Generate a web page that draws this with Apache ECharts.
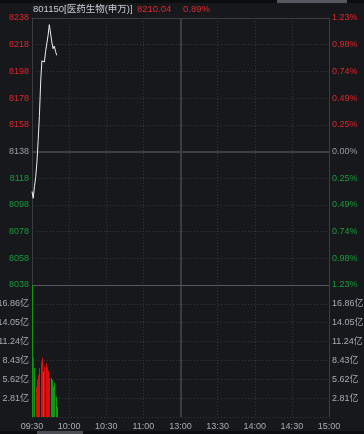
<!DOCTYPE html>
<html><head><meta charset="utf-8">
<script src="https://cdn.jsdelivr.net/npm/echarts@6/dist/echarts.min.js"></script>
<style>html,body{margin:0;padding:0;background:#16181c;}#c{width:364px;height:434px;}</style>
</head><body><div id="c"></div>
<script>
// ---- data ----
const titleCode = '801150[医药生物(申万)]';
const lastPrice = '8210.04';
const lastPct = '0.89%';
const preClose = 8138;
const priceMin = 8038, priceMax = 8238, priceStep = 20;
const timeLabels = ['09:30','10:00','10:30','11:00','13:00','13:30','14:00','14:30','15:00'];
const pctLabels = ['1.23%','0.98%','0.74%','0.49%','0.25%','0.00%','0.25%','0.49%','0.74%','0.98%','1.23%'];
const volStep = 2.81, volMax = 19.67;
const volLabels = ['2.81亿','5.62亿','8.43亿','11.24亿','14.05亿','16.86亿'];
const prices = [8108,8103,8112,8119,8130,8147,8165,8190,8206,8207,8205,8213,8214,8225,8233,8232,8220,8215,8217,8213,8210.04];
const volumes = [19.67,8.9,7.3,4.5,5.6,6.3,7.3,8.2,8.8,6.8,7.5,8.0,7.4,6.9,5.8,5.8,5.5,4.6,5.1,3.0,1.5];
const volDir  = [-1,1,-1,1,1,1,1,1,1,-1,1,1,1,1,1,-1,-1,-1,-1,-1,-1];
const minutesPerDay = 240, labelEvery = 30;

// ---- styles ----
const RED = '#e0262b', GREEN = '#1a9c3a', GRAY = '#9a9ea6', BG = '#16181c', LINE = '#3a3c41';
const BAR_UP = '#d81010', BAR_DOWN = '#119a11';
const FONT = "'Liberation Sans','Noto Sans CJK SC',sans-serif";
const dotted = {color:'#34373c', type:[1,2], width:1};
const colorOf = v => v > preClose + 0.001 ? RED : (v < preClose - 0.001 ? GREEN : GRAY);
const minuteCats = Array.from({length:minutesPerDay+1}, (_, i) => String(i));
const onLabel = i => i % labelEvery === 0;

const chart = echarts.init(document.getElementById('c'));
chart.setOption({
  backgroundColor: BG,
  animation: false,
  grid: [
    {left:32, right:35, top:18, height:267, containLabel:false, outerBoundsMode:'none'},
    {left:32, right:35, top:285, height:132, containLabel:false, outerBoundsMode:'none'}
  ],
  xAxis: [
    {type:'category', gridIndex:0, data:minuteCats, boundaryGap:false, position:'top',
     axisLine:{show:true, lineStyle:{color:LINE}}, axisTick:{show:false}, axisLabel:{show:false},
     splitLine:{show:true, interval:(i)=>onLabel(i), lineStyle:dotted}},
    {type:'category', gridIndex:1, data:minuteCats, boundaryGap:false,
     axisLine:{show:false}, axisTick:{show:false},
     axisLabel:{color:'#a8acb2', fontSize:9, fontFamily:FONT, margin:5, interval:(i)=>onLabel(i),
       formatter:(v,i)=>timeLabels[Math.round(Number(v)/labelEvery)]},
     splitLine:{show:true, interval:(i)=>onLabel(i), lineStyle:dotted}}
  ],
  yAxis: [
    {type:'value', gridIndex:0, min:priceMin, max:priceMax, interval:priceStep, position:'left',
     axisLine:{show:true, lineStyle:{color:LINE}}, axisTick:{show:false},
     axisLabel:{fontSize:9, fontFamily:FONT, margin:3, color:v=>colorOf(v), formatter:v=>String(v)},
     splitLine:{show:true, lineStyle:dotted}},
    {type:'value', gridIndex:0, min:priceMin, max:priceMax, interval:priceStep, position:'right',
     axisLine:{show:true, lineStyle:{color:LINE}}, axisTick:{show:false}, splitLine:{show:false},
     axisLabel:{fontSize:9, fontFamily:FONT, margin:3, color:v=>colorOf(v),
       formatter:v=>pctLabels[Math.round((priceMax - v)/priceStep)]}},
    {type:'value', gridIndex:1, min:0, max:volMax, interval:volStep, position:'left',
     axisLine:{show:true, lineStyle:{color:LINE}}, axisTick:{show:false},
     axisLabel:{fontSize:9, fontFamily:FONT, margin:3, color:'#a8acb2', showMinLabel:false, showMaxLabel:false,
       formatter:v=>volLabels[Math.round(v/volStep)-1] || ''},
     splitLine:{show:true, lineStyle:dotted}},
    {type:'value', gridIndex:1, min:0, max:volMax, interval:volStep, position:'right',
     axisLine:{show:true, lineStyle:{color:LINE}}, axisTick:{show:false}, splitLine:{show:false},
     axisLabel:{fontSize:9, fontFamily:FONT, margin:3, color:'#a8acb2', showMinLabel:false, showMaxLabel:false,
       formatter:v=>volLabels[Math.round(v/volStep)-1] || ''}}
  ],
  series: [
    {type:'line', xAxisIndex:0, yAxisIndex:0, data:prices, showSymbol:false,
     lineStyle:{color:'#eeeeee', width:1}, silent:true, z:5,
     markLine:{silent:true, symbol:'none', label:{show:false},
       data:[{yAxis:preClose, lineStyle:{color:'#3c3f44', width:2, type:'solid'}},
             {xAxis:'120', lineStyle:{color:LINE, width:2, type:'solid'}}]}},
    {type:'custom', xAxisIndex:1, yAxisIndex:2, z:10, silent:true,
     data:volumes.map((v,i)=>[i, v, volDir[i]]),
     encode:{x:0, y:1},
     renderItem:(params, api) => {
       const top = api.coord([api.value(0), api.value(1)]);
       const base = api.coord([api.value(0), 0]);
       return {type:'rect', shape:{x:Math.round(top[0]), y:top[1], width:1, height:base[1]-top[1]},
               style:{fill: api.value(2) > 0 ? BAR_UP : BAR_DOWN}};
     },
     markLine:{silent:true, symbol:'none', label:{show:false},
       data:[{xAxis:'120', lineStyle:{color:LINE, width:2, type:'solid'}},
             {yAxis:volMax, lineStyle:{color:'#55585e', width:1, type:'solid'}}]}}
  ],
  graphic: [
    {type:'rect', left:0, top:0, shape:{width:364, height:3}, style:{fill:'#0c0d0f'}, silent:true},
    {type:'rect', left:277, top:0, shape:{width:70, height:3}, style:{fill:'#55585e'}, silent:true},
    {type:'rect', left:0, top:431, shape:{width:364, height:3}, style:{fill:'#0c0d0f'}, silent:true},
    {type:'rect', left:37, top:431, shape:{width:46, height:3}, style:{fill:'#4a4d52'}, silent:true},
    {type:'text', left:33, top:5, style:{text:titleCode, fill:'#c8ccd2', font:'9.5px '+FONT}},
    {type:'text', left:137, top:5, style:{text:lastPrice, fill:RED, font:'9.5px '+FONT}},
    {type:'text', left:183, top:5, style:{text:lastPct, fill:RED, font:'9.5px '+FONT}}
  ]
});
</script></body></html>
